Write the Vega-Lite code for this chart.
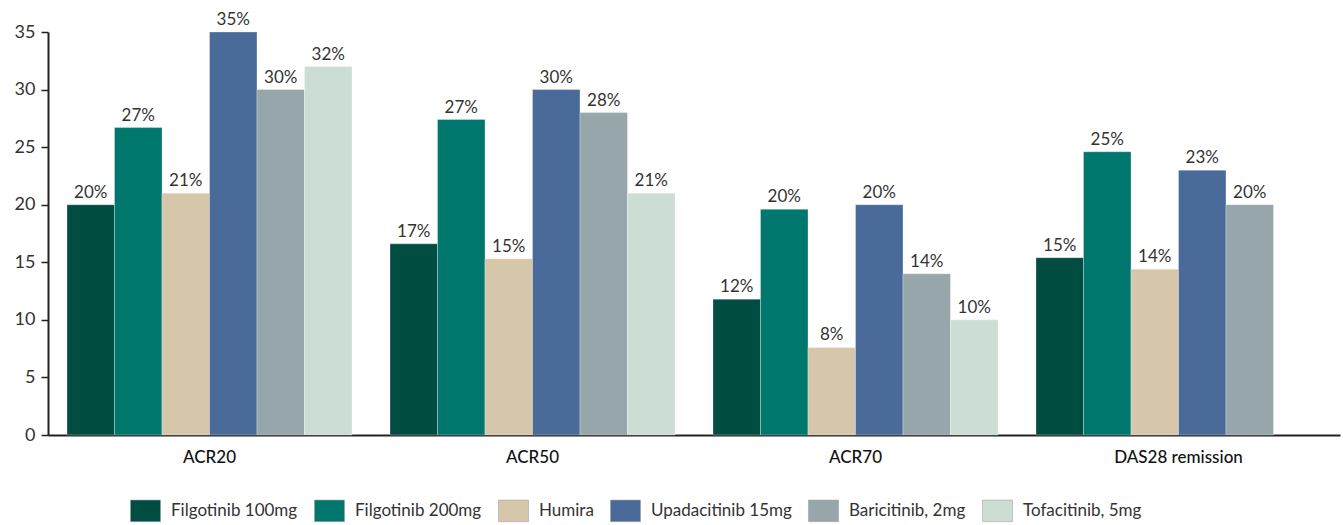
{
  "$schema": "https://vega.github.io/schema/vega-lite/v6.json",
  "width": 1292,
  "height": 403,
  "autosize": {"type": "none"},
  "padding": {"left": 48, "top": 32, "right": 3, "bottom": 90},
  "background": "white",
  "config": {
    "font": "Lato",
    "view": {"stroke": null}
  },
  "data": {
    "values": [
      {"measure": "ACR20", "drug": "Filgotinib 100mg", "value": 20, "label": "20%"},
      {"measure": "ACR20", "drug": "Filgotinib 200mg", "value": 26.7, "label": "27%"},
      {"measure": "ACR20", "drug": "Humira", "value": 21, "label": "21%"},
      {"measure": "ACR20", "drug": "Upadacitinib 15mg", "value": 35, "label": "35%"},
      {"measure": "ACR20", "drug": "Baricitinib, 2mg", "value": 30, "label": "30%"},
      {"measure": "ACR20", "drug": "Tofacitinib, 5mg", "value": 32, "label": "32%"},
      {"measure": "ACR50", "drug": "Filgotinib 100mg", "value": 16.6, "label": "17%"},
      {"measure": "ACR50", "drug": "Filgotinib 200mg", "value": 27.4, "label": "27%"},
      {"measure": "ACR50", "drug": "Humira", "value": 15.3, "label": "15%"},
      {"measure": "ACR50", "drug": "Upadacitinib 15mg", "value": 30, "label": "30%"},
      {"measure": "ACR50", "drug": "Baricitinib, 2mg", "value": 28, "label": "28%"},
      {"measure": "ACR50", "drug": "Tofacitinib, 5mg", "value": 21, "label": "21%"},
      {"measure": "ACR70", "drug": "Filgotinib 100mg", "value": 11.8, "label": "12%"},
      {"measure": "ACR70", "drug": "Filgotinib 200mg", "value": 19.6, "label": "20%"},
      {"measure": "ACR70", "drug": "Humira", "value": 7.6, "label": "8%"},
      {"measure": "ACR70", "drug": "Upadacitinib 15mg", "value": 20, "label": "20%"},
      {"measure": "ACR70", "drug": "Baricitinib, 2mg", "value": 14, "label": "14%"},
      {"measure": "ACR70", "drug": "Tofacitinib, 5mg", "value": 10, "label": "10%"},
      {"measure": "DAS28 remission", "drug": "Filgotinib 100mg", "value": 15.4, "label": "15%"},
      {"measure": "DAS28 remission", "drug": "Filgotinib 200mg", "value": 24.6, "label": "25%"},
      {"measure": "DAS28 remission", "drug": "Humira", "value": 14.4, "label": "14%"},
      {"measure": "DAS28 remission", "drug": "Upadacitinib 15mg", "value": 23, "label": "23%"},
      {"measure": "DAS28 remission", "drug": "Baricitinib, 2mg", "value": 20, "label": "20%"}
    ]
  },
  "encoding": {
    "x": {
      "field": "measure", "type": "nominal", "sort": null,
      "scale": {"paddingInner": 0.1176, "paddingOuter": 0.0588},
      "axis": {
        "title": null, "labelAngle": 0, "ticks": false,
        "domainColor": "#222", "domainWidth": 2,
        "labelFontSize": 17, "labelColor": "#111", "labelFontWeight": 500, "labelPadding": 14
      }
    },
    "xOffset": {
      "field": "drug", "type": "nominal",
      "sort": ["Filgotinib 100mg", "Filgotinib 200mg", "Humira", "Upadacitinib 15mg", "Baricitinib, 2mg", "Tofacitinib, 5mg"],
      "scale": {"paddingInner": 0, "paddingOuter": 0}
    },
    "y": {
      "field": "value", "type": "quantitative",
      "scale": {"domain": [0, 35], "nice": false},
      "axis": {
        "title": null, "values": [0, 5, 10, 15, 20, 25, 30, 35], "grid": false,
        "domainColor": "#222", "domainWidth": 2, "tickColor": "#222", "tickWidth": 1.5, "tickSize": 7,
        "labelFontSize": 18, "labelColor": "#333", "labelPadding": 6
      }
    }
  },
  "layer": [
    {
      "mark": {"type": "bar", "stroke": "white", "strokeWidth": 0.5, "strokeOpacity": 0.6},
      "encoding": {
        "color": {
          "field": "drug", "type": "nominal",
          "sort": ["Filgotinib 100mg", "Filgotinib 200mg", "Humira", "Upadacitinib 15mg", "Baricitinib, 2mg", "Tofacitinib, 5mg"],
          "scale": {
            "domain": ["Filgotinib 100mg", "Filgotinib 200mg", "Humira", "Upadacitinib 15mg", "Baricitinib, 2mg", "Tofacitinib, 5mg"],
            "range": ["#024d41", "#00776d", "#d6c6aa", "#4a6a9a", "#97a6aa", "#ccddd3"]
          },
          "legend": {
            "title": null, "orient": "none", "direction": "horizontal",
            "legendX": 82, "legendY": 463,
            "symbolType": "M-1,-0.72H1V0.72H-1Z", "symbolSize": 900,
            "symbolStrokeColor": "#999", "symbolStrokeWidth": 0.5,
            "labelFontSize": 17, "labelColor": "#333", "labelOffset": 10,
            "columnPadding": 15
          }
        }
      }
    },
    {
      "mark": {"type": "text", "dy": -12, "fontSize": 17, "color": "#333"},
      "encoding": {"text": {"field": "label"}}
    }
  ]
}
